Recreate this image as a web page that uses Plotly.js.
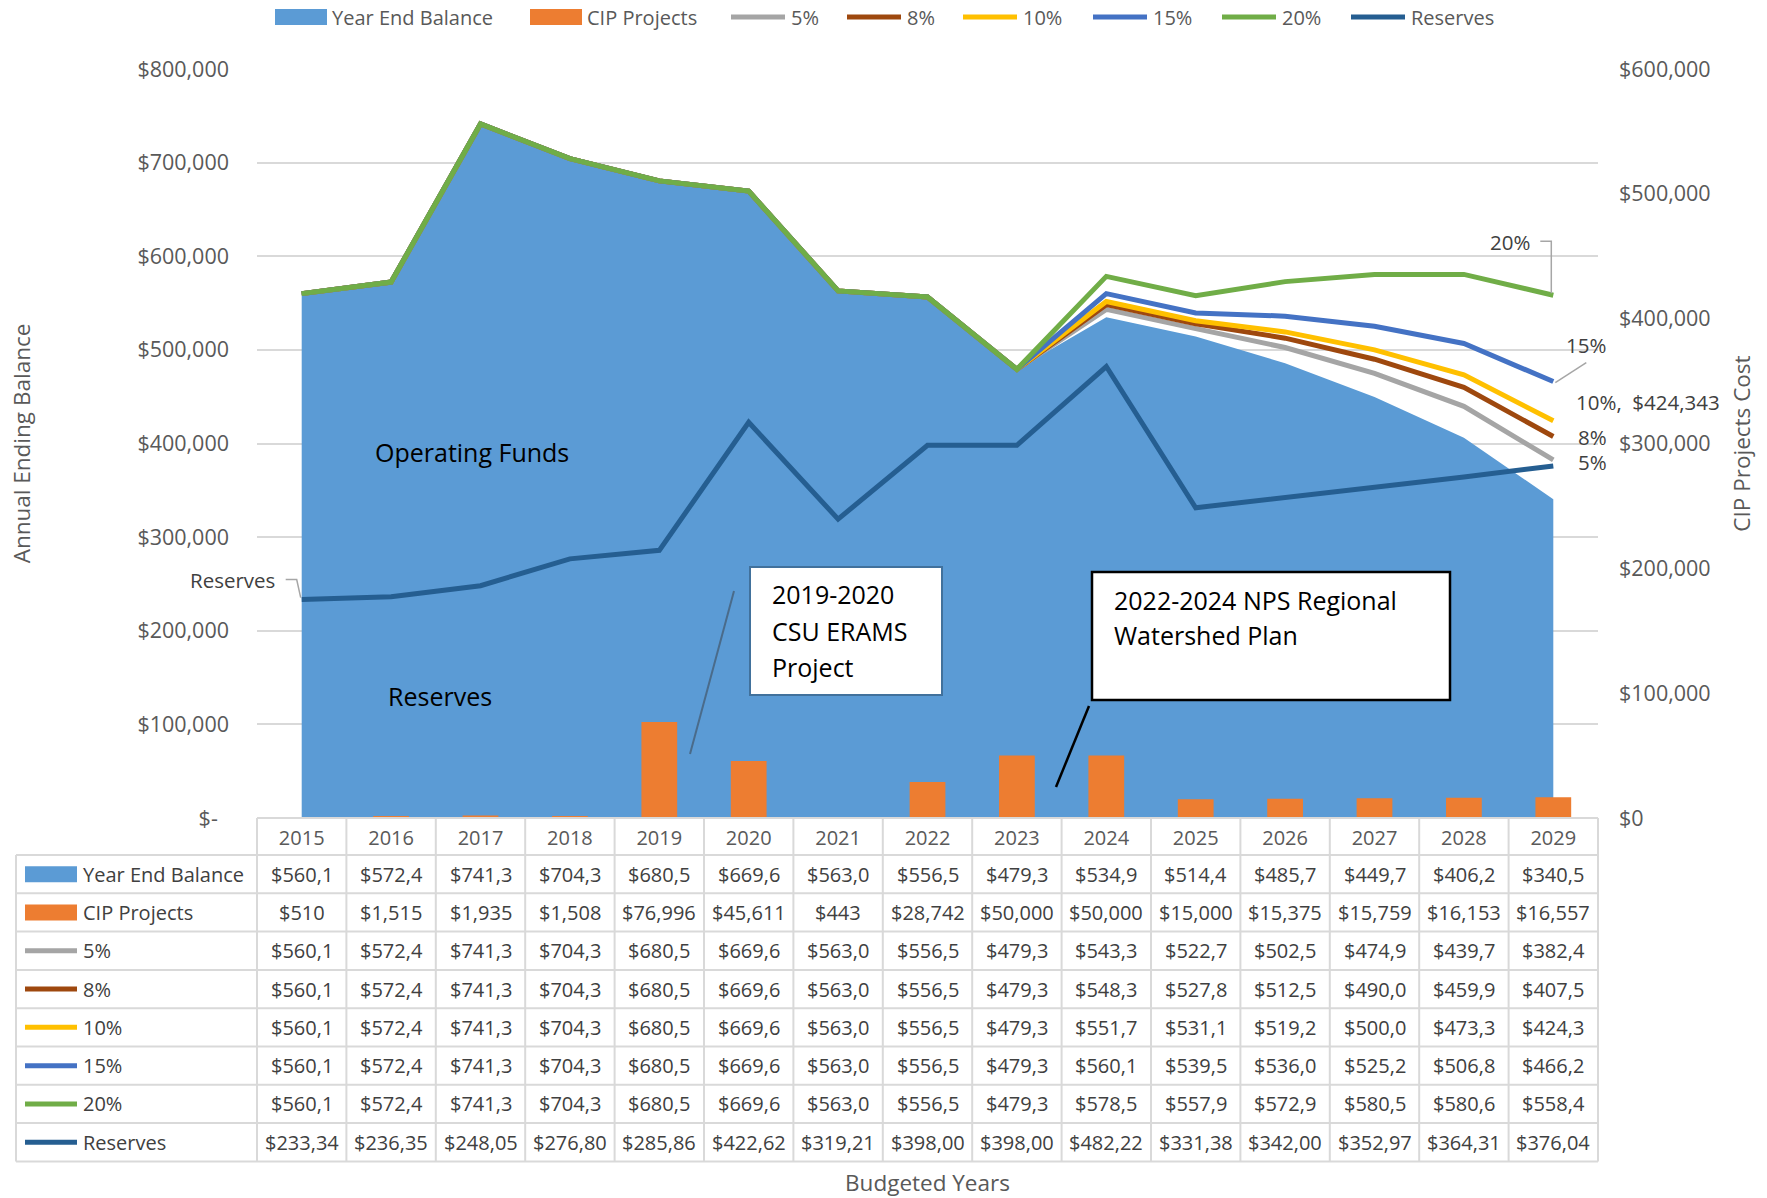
<!DOCTYPE html>
<html><head><meta charset="utf-8">
<script src="https://cdn.plot.ly/plotly-3.0.1.min.js"></script>
<style>html,body{margin:0;padding:0;background:#fff}#chart{width:1767px;height:1198px}</style>
</head><body><div id="chart"></div>
<script>
// ---------------- DATA ----------------
const years = [2015,2016,2017,2018,2019,2020,2021,2022,2023,2024,2025,2026,2027,2028,2029];
const yearEndBalance = [560100,572400,741300,704300,680500,669600,563000,556500,479300,534900,514400,485700,449700,406200,340500];
const cipProjects    = [510,1515,1935,1508,76996,45611,443,28742,50000,50000,15000,15375,15759,16153,16557];
const pct5           = [560100,572400,741300,704300,680500,669600,563000,556500,479300,543300,522700,502500,474900,439700,382400];
const pct8           = [560100,572400,741300,704300,680500,669600,563000,556500,479300,548300,527800,512500,490000,459900,407500];
const pct10          = [560100,572400,741300,704300,680500,669600,563000,556500,479300,551700,531100,519200,500000,473300,424343];
const pct15          = [560100,572400,741300,704300,680500,669600,563000,556500,479300,560100,539500,536000,525200,506800,466200];
const pct20          = [560100,572400,741300,704300,680500,669600,563000,556500,479300,578500,557900,572900,580500,580600,558400];
const reserves       = [233340,236350,248050,276800,285860,422620,319210,398000,398000,482220,331380,342000,352970,364310,376040];

const seriesNames  = ['Year End Balance','CIP Projects','5%','8%','10%','15%','20%','Reserves'];
const seriesColors = ['#5B9BD5','#ED7D31','#A5A5A5','#9E480E','#FFC000','#4472C4','#70AD47','#255E91'];
const seriesData   = [yearEndBalance, cipProjects, pct5, pct8, pct10, pct15, pct20, reserves];
const tableClip    = [6, 99, 6, 6, 6, 6, 6, 7];   // characters Excel shows in each table row

const leftTickVals  = [0,100000,200000,300000,400000,500000,600000,700000,800000];
const rightTickVals = [0,100000,200000,300000,400000,500000,600000];

// ---------------- LAYOUT HELPERS ----------------
const FONT = 'Open Sans, sans-serif';
const W = 1767, H = 1198, PL = 257, PR = 1598, PT = 69, PB = 818;
const px2x = px => (px - PL) / (PR - PL);
const px2y = py => (PB - py) / (PB - PT);
const money = v => '$' + String(v).replace(/\B(?=(\d{3})+(?!\d))/g, ',');

const GRID = '#d9d9d9', TICK = '#595959', TXT = '#404040';

// ---------------- TRACES ----------------
const traces = [];
traces.push({
  type:'scatter', mode:'lines', x: years, y: yearEndBalance, name: seriesNames[0],
  fill:'tozeroy', fillcolor: seriesColors[0], line:{width:0, color: seriesColors[0]}, yaxis:'y'
});
[2,3,4,5,6,7].forEach(i => {
  traces.push({
    type:'scatter', mode:'lines', x: years, y: seriesData[i], name: seriesNames[i],
    line:{color: seriesColors[i], width:5}, yaxis:'y'
  });
});
traces.push({
  type:'bar', x: years, y: cipProjects, name: seriesNames[1], width: 0.4,
  marker:{color: seriesColors[1]}, yaxis:'y2'
});

// ---------------- SHAPES & ANNOTATIONS ----------------
const shapes = [], annotations = [];
const line = (x0,y0,x1,y1,color,width) => shapes.push({type:'line', xref:'paper', yref:'paper',
  x0:px2x(x0), y0:px2y(y0), x1:px2x(x1), y1:px2y(y1), line:{color, width}});
const rect = (x0,y0,x1,y1,fill,lc,lw) => shapes.push({type:'rect', xref:'paper', yref:'paper',
  x0:px2x(x0), y0:px2y(y0), x1:px2x(x1), y1:px2y(y1), fillcolor:fill, line:{color:lc, width:lw}});
const text = (t,x,y,opts) => annotations.push(Object.assign({text:t, xref:'paper', yref:'paper',
  x:px2x(x), y:px2y(y), showarrow:false, xanchor:'center', yanchor:'middle',
  font:{family:FONT, size:20, color:TXT}}, opts||{}));

// legend (top)
const legendLeft = [275,530,731,847,963,1093,1222,1351];
seriesNames.forEach((n,i) => {
  const L = legendLeft[i];
  if (i < 2) { rect(L, 9, L+52, 25, seriesColors[i], seriesColors[i], 0); text(n, L+55, 17, {xanchor:'left', font:{family:FONT,size:20,color:TICK}}); }
  else { line(L, 17, L+54, 17, seriesColors[i], 5); text(n, L+58, 17, {xanchor:'left', font:{family:FONT,size:20,color:TICK}}); }
});

// data table grid
const TL = 16, headBot = 855, rowH = 38.3, nRows = seriesNames.length;
const tableBot = headBot + nRows * rowH;
line(PL, PB, PR, PB, GRID, 2);
for (let r = 0; r <= nRows; r++) line(TL, headBot + r*rowH, PR, headBot + r*rowH, GRID, 2);
line(TL, headBot, TL, tableBot, GRID, 2);
for (let k = 0; k <= years.length; k++) {
  const xp = PL + k * (PR - PL) / years.length;
  line(xp, PB, xp, tableBot, GRID, 2);
}
// table rows
seriesNames.forEach((n,r) => {
  const cy = headBot + (r + 0.5) * rowH;
  if (r < 2) rect(25, cy-8, 77, cy+8, seriesColors[r], seriesColors[r], 0);
  else line(25, cy, 77, cy, seriesColors[r], 5);
  text(n, 81, cy, {xanchor:'left'});
  seriesData[r].forEach((v,c) => {
    annotations.push({text: money(v).slice(0, tableClip[r]), xref:'x', yref:'paper', x: years[c], y: px2y(cy),
      showarrow:false, xanchor:'center', yanchor:'middle', font:{family:FONT, size:20, color:TXT}});
  });
});

// in-plot labels
text('Operating Funds', 472, 452, {font:{family:FONT,size:25,color:'#000'}});
text('Reserves', 440, 696, {font:{family:FONT,size:25,color:'#000'}});

// CSU box
rect(750, 567, 942, 695, '#ffffff', '#41719C', 2);
['2019-2020','CSU ERAMS','Project'].forEach((t,i) => text(t, 770, 594 + i*36.5, {xanchor:'left', font:{family:FONT,size:25,color:'#000'}}));
line(734, 591, 690, 754, '#4a6b8a', 2);
// NPS box
rect(1092, 572, 1450, 700, '#ffffff', '#000000', 2.5);
['2022-2024 NPS Regional','Watershed Plan'].forEach((t,i) => text(t, 1112, 600 + i*35, {xanchor:'left', font:{family:FONT,size:25,color:'#000'}}));
line(1089, 706, 1056, 787, '#000000', 2.5);

// data labels with leader lines
const last = years.length - 1;
const dl = (t, xv, yv, opts) => annotations.push(Object.assign({text:t, xref:'x', yref:'y', x:xv, y:yv, showarrow:false,
  yanchor:'middle', font:{family:FONT, size:20.5, color:TXT}}, opts));
const leader = (xv, yv, path) => shapes.push({type:'path', xref:'x', yref:'y', xsizemode:'pixel', ysizemode:'pixel',
  xanchor:xv, yanchor:yv, path, line:{color:'#a6a6a6', width:1.5}});

dl(seriesNames[7], years[0], reserves[0], {xanchor:'right', xshift:-25, yshift:20});
leader(years[0], reserves[0], 'M-16,20 L-5,20 L-1,2');
dl(seriesNames[6], years[last], pct20[last], {xanchor:'right', xshift:-21, yshift:53});
leader(years[last], pct20[last], 'M-13,54 L-2,54 L-2,2');
dl(seriesNames[5], years[last], pct15[last], {xanchor:'center', xshift:33, yshift:37});
leader(years[last], pct15[last], 'M33,19 L2,-1');
dl(seriesNames[4] + ', \u00a0' + money(pct10[last]), years[last], pct10[last], {xanchor:'left', xshift:21, yshift:19});
dl(seriesNames[3], years[last], pct8[last], {xanchor:'left', xshift:23, yshift:-1});
dl(seriesNames[2], years[last], pct5[last], {xanchor:'left', xshift:23, yshift:-2});

// ---------------- LAYOUT ----------------
const layout = {
  width: W, height: H, margin:{l:PL, r:W-PR, t:PT, b:H-PB, pad:0},
  paper_bgcolor:'#fff', plot_bgcolor:'#fff', showlegend:false, hovermode:false,
  font:{family:FONT, color:TICK},
  xaxis:{type:'linear', range:[years[0]-0.5, years[last]+0.5], tickvals: years, ticktext: years.map(String),
    showgrid:false, zeroline:false, showline:false, ticks:'', ticklabelstandoff:6,
    tickfont:{family:FONT, size:20, color:TICK},
    title:{text:'Budgeted Years', font:{family:FONT, size:22.5, color:TICK}, standoff:326}},
  yaxis:{range:[0,800000], tickvals:leftTickVals,
    ticktext: leftTickVals.map(v => v === 0 ? '$-\u00a0\u00a0' : money(v)),
    showgrid:true, gridcolor:GRID, gridwidth:1.5, zeroline:false, showline:false, ticks:'', ticklabelstandoff:27,
    tickfont:{family:FONT, size:21.5, color:TICK},
    title:{text:'Annual Ending Balance', font:{family:FONT, size:22.5, color:TICK}, standoff:100}},
  yaxis2:{range:[0,600000], tickvals:rightTickVals, ticktext: rightTickVals.map(money), overlaying:'y', side:'right',
    showgrid:false, zeroline:false, showline:false, ticks:'', ticklabelstandoff:20,
    tickfont:{family:FONT, size:21.5, color:TICK},
    title:{text:'CIP Projects Cost', font:{family:FONT, size:22.5, color:TICK}, standoff:24}},
  shapes, annotations
};
Plotly.newPlot('chart', traces, layout, {displayModeBar:false, responsive:false});
</script></body></html>
